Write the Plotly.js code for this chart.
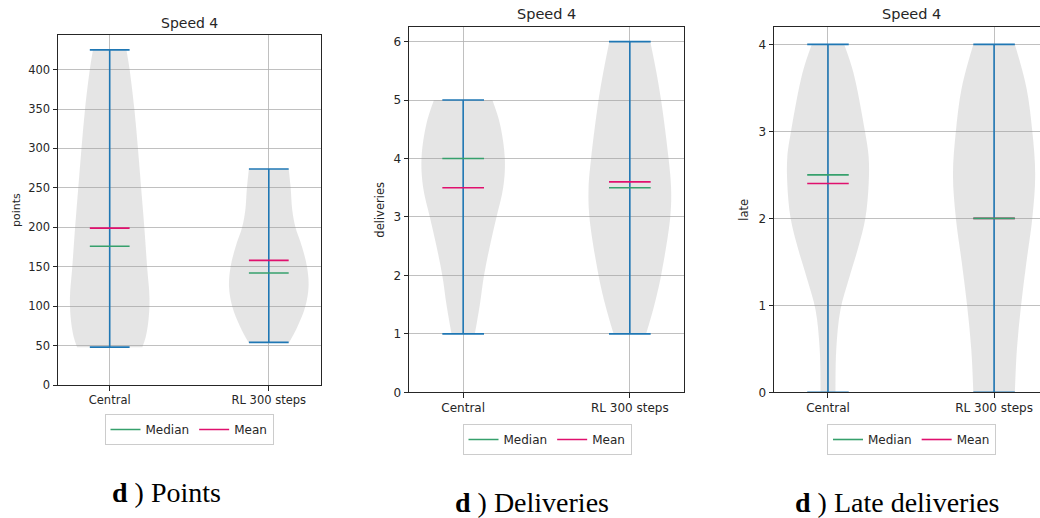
<!DOCTYPE html>
<html>
<head>
<meta charset="utf-8">
<script src="https://cdn.plot.ly/plotly-3.0.1.min.js"></script>
<style>html,body{margin:0;padding:0;background:#fff;}#chart{width:1040px;height:518px;}</style>
</head>
<body>
<div id="chart"></div>
<script>
// ---------- DATA ----------
const categories = ["Central", "RL 300 steps"];
const categoryIndex = [1, 2];

const pointsMin = [48, 54];
const pointsMax = [425, 274];
const pointsMedian = [176, 142];
const pointsMean = [199, 158];

const deliveriesMin = [1, 1];
const deliveriesMax = [5, 6];
const deliveriesMedian = [4, 3.5];
const deliveriesMean = [3.5, 3.6];

const lateMin = [0, 0];
const lateMax = [4, 4];
const lateMedian = [2.5, 2];
const lateMean = [2.4, 2.0];

// violin density profiles (relative width, 1 = widest)
const pointsCentralLevels = [48, 60, 80, 110, 150, 200, 250, 300, 350, 400, 425];
const pointsCentralDensity = [0.82, 0.9, 0.97, 1.0, 0.94, 0.87, 0.79, 0.71, 0.62, 0.5, 0.42];
const pointsRLLevels = [54, 74, 100, 125, 150, 176, 200, 222, 250, 274];
const pointsRLDensity = [0.51, 0.72, 0.92, 1.0, 0.96, 0.83, 0.67, 0.59, 0.55, 0.50];

const deliveriesCentralLevels = [1.0, 1.5, 2.0, 2.5, 3.0, 3.5, 4.0, 4.6, 5.0];
const deliveriesCentralDensity = [0.28, 0.4, 0.5, 0.64, 0.8, 0.96, 1.0, 0.88, 0.70];
const deliveriesRLLevels = [1.0, 1.5, 2.0, 3.0, 3.5, 4.0, 5.0, 5.5, 6.0];
const deliveriesRLDensity = [0.39, 0.59, 0.75, 0.97, 0.99, 0.93, 0.75, 0.63, 0.49];

const lateCentralLevels = [0, 0.5, 0.95, 1.3, 1.65, 2.0, 2.4, 2.7, 3.0, 3.68, 4.0];
const lateCentralDensity = [0.18, 0.2, 0.3, 0.5, 0.72, 0.9, 0.98, 0.98, 0.89, 0.61, 0.39];
const lateRLLevels = [0, 0.5, 1.0, 1.5, 2.0, 2.5, 3.0, 3.5, 4.0];
const lateRLDensity = [0.5, 0.55, 0.65, 0.78, 0.92, 0.99, 0.92, 0.78, 0.5];

const yLabels = ["points", "deliveries", "late"];
const panelTitle = "Speed 4";
const captions = ["<b>d</b> ) Points", "<b>d</b> ) Deliveries", "<b>d</b> ) Late deliveries"];
const legendNames = ["Median", "Mean"];

// ---------- STYLE ----------
const W = 1040, H = 518;
const VIOLIN_HALF = 0.25, CAP_HALF = 0.125;
const BLUE = "#1f77b4", GREEN = "#36a06c", PINK = "#e0106e";
const FILL = "rgba(150,150,150,0.25)";
const GRID = "#b0b0b0", INK = "#262626";
const FONT = "DejaVu Sans, sans-serif";
function px(x){ return x / W; }
function py(y){ return 1 - y / H; }

const panels = [
  {suffix: "", dom: [58, 320.5], ydom: [35, 385], yrange: [0, 443.85], xrange: [0.675, 2.325], dtick: 50,
   min: pointsMin, max: pointsMax, med: pointsMedian, mean: pointsMean,
   prof: [[pointsCentralLevels, pointsCentralDensity], [pointsRLLevels, pointsRLDensity]],
   tick: 11.5, title: 14, titleY: 23.5, titleX: 189, labelX: 16, legX: 189, legY: 429.5, capX: 166, capY: 492, rightLine: true},
  {suffix: "2", dom: [409, 684], ydom: [27, 392.3], yrange: [0, 6.25], xrange: [0.675, 2.325], dtick: 1,
   min: deliveriesMin, max: deliveriesMax, med: deliveriesMedian, mean: deliveriesMean,
   prof: [[deliveriesCentralLevels, deliveriesCentralDensity], [deliveriesRLLevels, deliveriesRLDensity]],
   tick: 12, title: 14.5, titleY: 14, titleX: 546.5, labelX: 380, legX: 547, legY: 439.5, capX: 531.7, capY: 502, rightLine: true},
  {suffix: "3", dom: [774, 1040], ydom: [27, 392.3], yrange: [0, 4.2], xrange: [0.675, 0.675 + 266/166.1], dtick: 1,
   min: lateMin, max: lateMax, med: lateMedian, mean: lateMean,
   prof: [[lateCentralLevels, lateCentralDensity], [lateRLLevels, lateRLDensity]],
   tick: 12, title: 14.5, titleY: 14, titleX: 911, labelX: 744, legX: 911.5, legY: 439.5, capX: 896.7, capY: 502, rightLine: false}
];

const traces = [];
const layout = {
  width: W, height: H, margin: {l: 0, r: 0, t: 0, b: 0},
  paper_bgcolor: "#fff", plot_bgcolor: "#fff",
  annotations: [], showlegend: true
};

panels.forEach((p, i) => {
  const xa = "x" + p.suffix, ya = "y" + p.suffix;
  const legName = "legend" + p.suffix;
  // violins: left edge, then right edge filled to it
  p.prof.forEach((pr, k) => {
    const c = categoryIndex[k];
    const lv = pr[0], d = pr[1];
    const left = d.map(v => c - VIOLIN_HALF * v);
    const right = d.map(v => c + VIOLIN_HALF * v);
    traces.push({type: "scatter", mode: "lines", x: left, y: lv, xaxis: xa, yaxis: ya,
      line: {width: 0, shape: "spline", smoothing: 1, color: "rgba(0,0,0,0)"},
      showlegend: false, hoverinfo: "skip"});
    traces.push({type: "scatter", mode: "lines", x: right, y: lv, xaxis: xa, yaxis: ya,
      fill: "tonextx", fillcolor: FILL,
      line: {width: 0, shape: "spline", smoothing: 1, color: "rgba(0,0,0,0)"},
      showlegend: false, hoverinfo: "skip"});
  });
  // range bars with caps
  const bx = [], by = [];
  categoryIndex.forEach((c, k) => {
    bx.push(c, c, null, c - CAP_HALF, c + CAP_HALF, null, c - CAP_HALF, c + CAP_HALF, null);
    by.push(p.min[k], p.max[k], null, p.min[k], p.min[k], null, p.max[k], p.max[k], null);
  });
  traces.push({type: "scatter", mode: "lines", x: bx, y: by, xaxis: xa, yaxis: ya,
    line: {color: BLUE, width: 1.6}, showlegend: false, hoverinfo: "skip"});
  // mean then median (median drawn on top)
  const mx = [], my = [], dx = [], dy = [];
  categoryIndex.forEach((c, k) => {
    mx.push(c - CAP_HALF, c + CAP_HALF, null); my.push(p.mean[k], p.mean[k], null);
    dx.push(c - CAP_HALF, c + CAP_HALF, null); dy.push(p.med[k], p.med[k], null);
  });
  traces.push({type: "scatter", mode: "lines", name: legendNames[1], x: mx, y: my, xaxis: xa, yaxis: ya,
    line: {color: PINK, width: 1.6}, legend: legName, legendrank: 2, showlegend: true});
  traces.push({type: "scatter", mode: "lines", name: legendNames[0], x: dx, y: dy, xaxis: xa, yaxis: ya,
    line: {color: GREEN, width: 1.6}, legend: legName, legendrank: 1, showlegend: true});

  const xKey = "xaxis" + p.suffix, yKey = "yaxis" + p.suffix;
  layout[xKey] = {
    domain: [px(p.dom[0]), px(p.dom[1])], range: p.xrange, anchor: ya,
    tickmode: "array", tickvals: categoryIndex, ticktext: categories,
    showgrid: true, gridcolor: GRID, gridwidth: 0.8, zeroline: false,
    showline: true, linecolor: INK, linewidth: 1, mirror: true,
    ticks: "outside", ticklen: 4.5, tickwidth: 1, tickcolor: INK,
    tickfont: {family: FONT, size: p.tick, color: INK}, fixedrange: true
  };
  layout[yKey] = {
    domain: [py(p.ydom[1]), py(p.ydom[0])], range: p.yrange, anchor: xa,
    tickmode: "linear", tick0: 0, dtick: p.dtick,
    showgrid: true, gridcolor: GRID, gridwidth: 0.8, zeroline: false,
    showline: true, linecolor: INK, linewidth: 1, mirror: p.rightLine,
    ticks: "outside", ticklen: 4.5, tickwidth: 1, tickcolor: INK,
    tickfont: {family: FONT, size: p.tick, color: INK}, fixedrange: true
  };
  layout[legName] = {
    x: px(p.legX), y: py(p.legY), xanchor: "center", yanchor: "middle",
    orientation: "h", bgcolor: "#fff", bordercolor: "#cccccc", borderwidth: 1,
    font: {family: FONT, size: 12, color: INK}, traceorder: "normal"
  };
  layout.annotations.push({text: panelTitle, xref: "paper", yref: "paper",
    x: px(p.titleX), y: py(p.titleY),
    xanchor: "center", yanchor: "middle", showarrow: false,
    font: {family: FONT, size: p.title, color: INK}});
  layout.annotations.push({text: yLabels[i], xref: "paper", yref: "paper",
    x: px(p.labelX), y: py((p.ydom[0] + p.ydom[1]) / 2), textangle: -90,
    xanchor: "center", yanchor: "middle", showarrow: false,
    font: {family: FONT, size: p.tick - 0.5, color: INK}});
  layout.annotations.push({text: captions[i], xref: "paper", yref: "paper",
    x: px(p.capX), y: py(p.capY), xanchor: "center", yanchor: "middle", showarrow: false,
    font: {family: "Liberation Serif, Times New Roman, serif", size: 28, color: "#000"}});
});

Plotly.newPlot("chart", traces, layout, {displayModeBar: false, staticPlot: true});
</script>
</body>
</html>
